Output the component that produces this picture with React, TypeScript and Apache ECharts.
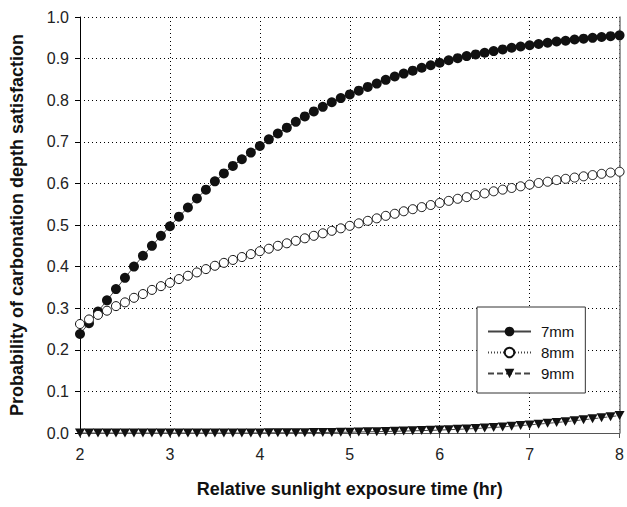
import React, { useEffect, useRef } from "react";
import * as echarts from "echarts";

// Relative sunlight exposure time (hr), sampled every 0.1 h from 2 to 8
const exposureTimes: number[] = Array.from({ length: 61 }, (_, i) => +(2 + i * 0.1).toFixed(1));

const prob7mm: number[] = [
  0.238, 0.264, 0.292, 0.319, 0.346, 0.373, 0.400, 0.426, 0.450, 0.474,
  0.497, 0.520, 0.542, 0.564, 0.585, 0.605, 0.624, 0.642, 0.658, 0.674,
  0.690, 0.706, 0.720, 0.734, 0.748, 0.761, 0.773, 0.784, 0.795, 0.805,
  0.814, 0.823, 0.832, 0.840, 0.849, 0.857, 0.864, 0.871, 0.878, 0.884,
  0.890, 0.896, 0.901, 0.906, 0.910, 0.914, 0.918, 0.922, 0.926, 0.929,
  0.932, 0.935, 0.938, 0.941, 0.943, 0.946, 0.948, 0.950, 0.952, 0.954,
  0.956,
];

const prob8mm: number[] = [
  0.262, 0.273, 0.284, 0.294, 0.305, 0.314, 0.325, 0.334, 0.344, 0.353,
  0.361, 0.370, 0.378, 0.386, 0.394, 0.402, 0.409, 0.416, 0.423, 0.430,
  0.437, 0.443, 0.450, 0.456, 0.462, 0.468, 0.474, 0.480, 0.486, 0.492,
  0.498, 0.504, 0.510, 0.516, 0.522, 0.527, 0.533, 0.538, 0.543, 0.548,
  0.553, 0.558, 0.563, 0.567, 0.572, 0.576, 0.581, 0.585, 0.589, 0.593,
  0.597, 0.601, 0.604, 0.608, 0.611, 0.614, 0.617, 0.620, 0.623, 0.626,
  0.628,
];

const prob9mm: number[] = [
  0, 0, 0, 0, 0, 0, 0, 0, 0, 0,
  0, 0, 0, 0, 0, 0, 0, 0, 0, 0,
  0.0003, 0.0004, 0.0005, 0.0006, 0.0007, 0.0009, 0.0011, 0.0013, 0.0015, 0.0018,
  0.0020, 0.0024, 0.0028, 0.0032, 0.0037, 0.0042, 0.0047, 0.0052, 0.0058, 0.0064,
  0.0070, 0.0079, 0.0088, 0.0098, 0.0108, 0.0120, 0.0133, 0.0147, 0.0162, 0.0178,
  0.0195, 0.0213, 0.0232, 0.0252, 0.0273, 0.0295, 0.0318, 0.0342, 0.0367, 0.0393,
  0.0420,
];

const seriesNames: string[] = ["7mm", "8mm", "9mm"];

const FONT = "'Liberation Sans', Arial, Helvetica, sans-serif";

const pairs = (ys: number[]) => exposureTimes.map((x, i) => [x, ys[i]]);

export default function App() {
  const ref = useRef<HTMLDivElement>(null);

  useEffect(() => {
    if (!ref.current) return;
    const chart = echarts.init(ref.current, null, { renderer: "svg" });
    chart.setOption({
      animation: false,
      backgroundColor: "#fff",
      textStyle: { fontFamily: FONT },
      grid: { left: 79, right: 7, top: 17, bottom: 74, containLabel: false },
      legend: {
        orient: "vertical",
        left: 477,
        top: 307,
        data: seriesNames,
        itemWidth: 43,
        itemHeight: 12,
        itemGap: 6,
        padding: [17, 11, 12, 10],
        borderColor: "#333",
        borderWidth: 1,
        backgroundColor: "#fff",
        textStyle: {
          fontFamily: FONT,
          fontSize: 15,
          color: "#111",
          lineHeight: 14,
          padding: [0, 0, 0, 5],
        },
      },
      xAxis: {
        type: "value",
        min: 2,
        max: 8,
        interval: 1,
        name: "Relative sunlight exposure time (hr)",
        nameLocation: "middle",
        nameGap: 47,
        nameTextStyle: { fontFamily: FONT, fontSize: 18, fontWeight: "bold", color: "#111" },
        axisLine: { show: true, onZero: false, lineStyle: { color: "#555", width: 1 } },
        axisTick: { show: true, length: 5, lineStyle: { color: "#555" } },
        axisLabel: { fontFamily: FONT, fontSize: 16, color: "#222", margin: 13 },
        splitLine: { show: true, lineStyle: { color: "#000", type: [1, 3], width: 1 } },
      },
      yAxis: [
        {
          type: "value",
          min: 0,
          max: 1,
          interval: 0.1,
          name: "Probability of carbonation depth satisfaction",
          nameLocation: "middle",
          nameGap: 54,
          nameTextStyle: { fontFamily: FONT, fontSize: 18, fontWeight: "bold", color: "#111" },
          axisLine: { show: true, onZero: false, lineStyle: { color: "#000", width: 1 } },
          axisTick: { show: true, length: 5, lineStyle: { color: "#000" } },
          axisLabel: {
            fontFamily: FONT,
            fontSize: 16,
            color: "#222",
            margin: 11,
            formatter: (v: number) => v.toFixed(1),
          },
          splitLine: { show: true, lineStyle: { color: "#000", type: [1, 3], width: 1 } },
        },
        {
          type: "value",
          position: "right",
          min: 0,
          max: 1,
          interval: 0.1,
          axisLine: { show: true, lineStyle: { color: "#777", width: 1.5 } },
          axisTick: { show: false },
          axisLabel: { show: false },
          splitLine: { show: false },
        },
      ],
      series: [
        {
          name: seriesNames[0],
          type: "line",
          data: pairs(prob7mm),
          symbol: "circle",
          symbolSize: 10,
          itemStyle: { color: "#111" },
          lineStyle: { color: "#444", width: 1 },
        },
        {
          name: seriesNames[1],
          type: "line",
          data: pairs(prob8mm),
          symbol: "circle",
          symbolSize: 9,
          itemStyle: { color: "#fff", borderColor: "#111", borderWidth: 1 },
          lineStyle: { color: "#444", width: 1, type: [1, 2] },
        },
        {
          name: seriesNames[2],
          type: "line",
          data: pairs(prob9mm),
          symbol: "triangle",
          symbolRotate: 180,
          symbolSize: [10, 9],
          itemStyle: { color: "#111" },
          lineStyle: { color: "#444", width: 1, type: [6, 3] },
        },
      ],
    });
    return () => chart.dispose();
  }, []);

  return <div ref={ref} style={{ width: 627, height: 507, position: "absolute", left: 0, top: 0 }} />;
}
